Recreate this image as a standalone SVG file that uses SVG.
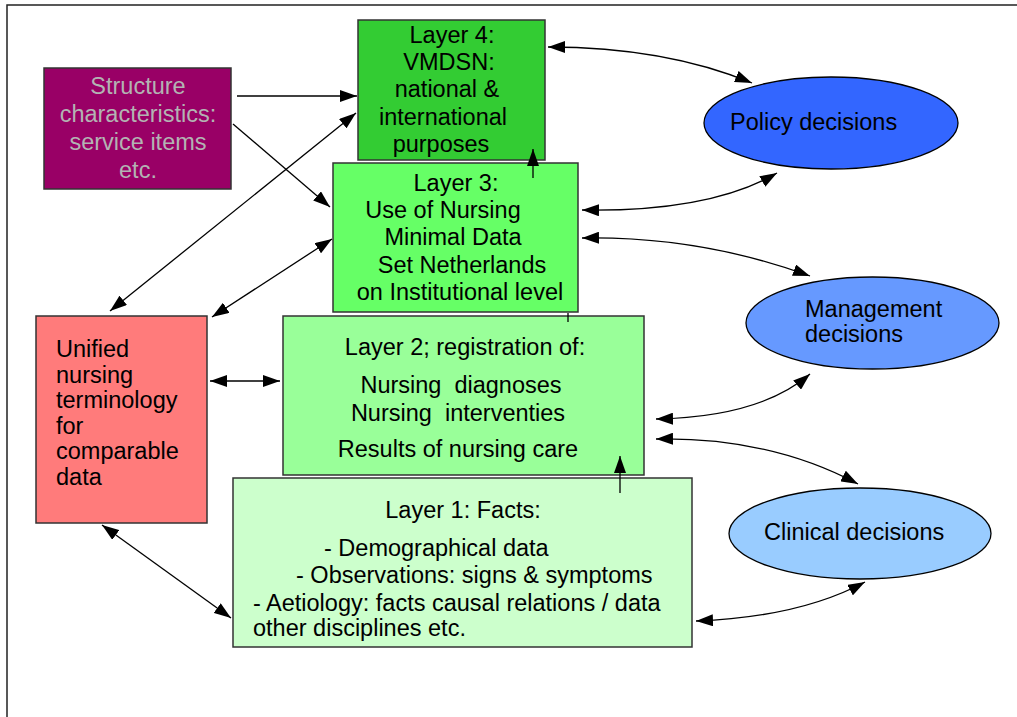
<svg xmlns="http://www.w3.org/2000/svg" width="1017" height="717" viewBox="0 0 1017 717">
<style>
text{font-family:"Liberation Sans",Arial,sans-serif;font-size:23.5px;fill:#000}
.c{text-anchor:middle}
.box{stroke:#333;stroke-width:1.5}
.ell{stroke:#000;stroke-width:1.3}
.con{fill:none;stroke:#000;stroke-width:1.3}
.one{marker-end:url(#ah)}
.two{marker-start:url(#ah);marker-end:url(#ah)}
</style>
<defs>
<marker id="ah" markerUnits="userSpaceOnUse" markerWidth="18" markerHeight="12" refX="17" refY="6" orient="auto-start-reverse">
<path d="M0,0 L17,6 L0,12 z" fill="#000"/>
</marker>
</defs>
<rect width="1017" height="717" fill="#fff"/>
<path d="M7,717 V5 H1017" fill="none" stroke="#222" stroke-width="1.5"/>

<g id="structure">
<rect class="box" x="44" y="68" width="187" height="121" fill="#990066"/>
<text class="c" x="138" y="94" style="fill:#b3b3b3">Structure</text>
<text class="c" x="138" y="122" style="fill:#b3b3b3">characteristics:</text>
<text class="c" x="138" y="150" style="fill:#b3b3b3">service items</text>
<text class="c" x="138" y="178" style="fill:#b3b3b3">etc.</text>
</g>

<g id="layer4">
<rect class="box" x="358" y="20" width="187" height="140" fill="#33cc33"/>
<text class="c" x="452" y="43">Layer 4:</text>
<text class="c" x="449" y="70">VMDSN:</text>
<text class="c" x="447" y="97">national &amp;</text>
<text class="c" x="443" y="125">international</text>
<text class="c" x="441" y="152">purposes</text>
</g>

<g id="layer3">
<rect class="box" x="333" y="163" width="245" height="149" fill="#66ff66"/>
<text class="c" x="456" y="191">Layer 3:</text>
<text class="c" x="443" y="218">Use of Nursing</text>
<text class="c" x="453" y="245">Minimal Data</text>
<text class="c" x="462" y="273">Set Netherlands</text>
<text class="c" x="460" y="300">on Institutional level</text>
</g>

<g id="layer2">
<rect class="box" x="283" y="316" width="361" height="159" fill="#99ff99"/>
<text class="c" x="465" y="355">Layer 2; registration of:</text>
<text class="c" x="461" y="393" xml:space="preserve">Nursing  diagnoses</text>
<text class="c" x="458" y="421" xml:space="preserve">Nursing  interventies</text>
<text class="c" x="458" y="457">Results of nursing care</text>
</g>

<g id="layer1">
<rect class="box" x="233" y="478" width="459" height="169" fill="#ccffcc"/>
<text class="c" x="463" y="518">Layer 1: Facts:</text>
<text x="324" y="556">- Demographical data</text>
<text x="296" y="583">- Observations: signs &amp; symptoms</text>
<text x="253" y="611">- Aetiology: facts causal relations / data</text>
<text x="253" y="636">other disciplines etc.</text>
</g>

<g id="unified">
<rect class="box" x="36" y="316" width="171" height="207" fill="#ff7b7b"/>
<text x="56" y="357">Unified</text>
<text x="56" y="383">nursing</text>
<text x="56" y="408">terminology</text>
<text x="56" y="434">for</text>
<text x="56" y="459">comparable</text>
<text x="56" y="485">data</text>
</g>

<g id="policy">
<ellipse class="ell" cx="831" cy="123" rx="127" ry="46" fill="#3366ff"/>
<text x="730" y="130">Policy decisions</text>
</g>

<g id="management">
<ellipse class="ell" cx="872.5" cy="323" rx="126.5" ry="46" fill="#6699ff"/>
<text x="805" y="317">Management</text>
<text x="805" y="342">decisions</text>
</g>

<g id="clinical">
<ellipse class="ell" cx="860" cy="533.5" rx="131" ry="45.5" fill="#99ccff"/>
<text x="764" y="540">Clinical decisions</text>
</g>

<g id="connectors">
<path class="con one" d="M237,96 L357,96"/>
<path class="con one" d="M233,124 L330,207"/>
<path class="con two" d="M110,311 L356,113"/>
<path class="con two" d="M212,317 L332,239"/>
<path class="con two" d="M210,381 L280,381"/>
<path class="con two" d="M102,525 L231,618"/>
<path class="con two" d="M548,47 Q665,47 752,83"/>
<path class="con two" d="M582,210 Q710,212 777,173"/>
<path class="con two" d="M582,238 Q700,236 810,276"/>
<path class="con two" d="M656,419 Q760,417 810,374"/>
<path class="con two" d="M656,439 Q770,437 858,484"/>
<path class="con two" d="M696,621 Q800,617 865,582"/>
<path class="con one" d="M533,178 L533,149"/>
<path class="con one" d="M620,493 L620,456"/>
<path class="con" d="M568,313 L568,322"/>
</g>
</svg>
